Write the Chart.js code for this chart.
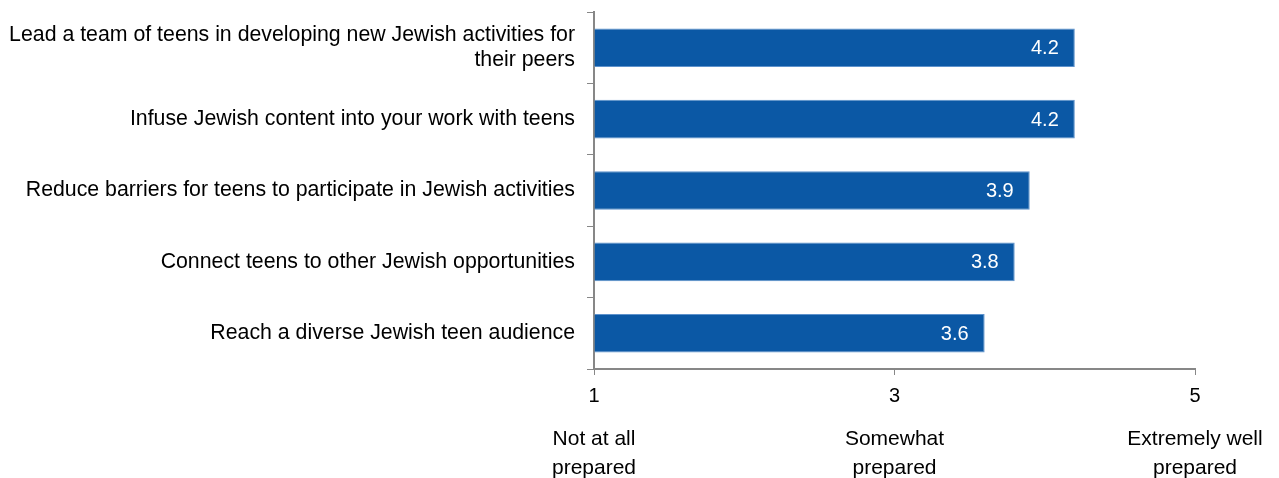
<!DOCTYPE html>
<html>
<head>
<meta charset="utf-8">
<script src="https://cdn.jsdelivr.net/npm/chart.js@4.4.1/dist/chart.umd.min.js"></script>
<style>
html,body{margin:0;padding:0;background:#fff;}
#wrap{width:1279px;height:478px;position:relative;}
</style>
</head>
<body>
<div id="wrap"><canvas id="c"></canvas></div>
<script>
const categories = [
  ["Lead a team of teens in developing new Jewish activities for", "their peers"],
  "Infuse Jewish content into your work with teens",
  "Reduce barriers for teens to participate in Jewish activities",
  "Connect teens to other Jewish opportunities",
  "Reach a diverse Jewish teen audience"
];
const values = [4.2, 4.2, 3.9, 3.8, 3.6];
const xTicks = [1, 3, 5];
const scaleLabels = [["Not at all", "prepared"], ["Somewhat", "prepared"], ["Extremely well", "prepared"]];

const FONT = "'Liberation Sans', Arial, sans-serif";
const AXIS = '#878787';
const LEFT_PAD = 4;

const barLabels = {
  id: 'barLabels',
  afterDatasetsDraw(chart) {
    const ctx = chart.ctx;
    const meta = chart.getDatasetMeta(0);
    ctx.save();
    ctx.font = '20px ' + FONT;
    ctx.fillStyle = '#ffffff';
    ctx.textAlign = 'right';
    ctx.textBaseline = 'middle';
    meta.data.forEach((bar, i) => {
      ctx.fillText(values[i].toFixed(1), bar.x - 16, bar.y + 1);
    });
    ctx.restore();
  }
};

new Chart(document.getElementById('c'), {
  type: 'bar',
  data: {
    labels: categories,
    datasets: [{
      data: values,
      backgroundColor: '#0B58A5',
      borderColor: '#5E92CC',
      borderWidth: 1,
      barPercentage: 0.54,
      categoryPercentage: 1.0,
      base: 1
    }]
  },
  options: {
    indexAxis: 'y',
    responsive: true,
    maintainAspectRatio: false,
    animation: false,
    layout: { padding: { top: 12, right: 84, bottom: 0, left: LEFT_PAD } },
    plugins: { legend: { display: false }, tooltip: { enabled: false } },
    scales: {
      x: {
        type: 'linear',
        position: 'bottom',
        min: 1, max: 5,
        afterBuildTicks(scale) { scale.ticks = xTicks.map(v => ({ value: v })); },
        afterFit(scale) { scale.height = 38; scale.paddingLeft = 0; scale.paddingRight = 0; },
        grid: { drawOnChartArea: false, drawTicks: true, tickLength: 6, color: AXIS },
        border: { color: AXIS, width: 2 },
        ticks: { color: '#000', font: { family: FONT, size: 20 }, padding: 9, maxRotation: 0 }
      },
      x2: {
        type: 'linear',
        position: 'bottom',
        min: 1, max: 5,
        afterBuildTicks(scale) { scale.ticks = xTicks.map(v => ({ value: v })); },
        afterFit(scale) { scale.height = 71; scale.paddingLeft = 0; scale.paddingRight = 0; },
        grid: { display: false, drawTicks: false },
        border: { display: false },
        ticks: {
          color: '#000',
          font: { family: FONT, size: 21, lineHeight: 1.38 },
          padding: 18,
          maxRotation: 0,
          autoSkip: false,
          callback: (v) => scaleLabels[xTicks.indexOf(v)]
        }
      },
      y: {
        afterFit(scale) { scale.width = 594 - LEFT_PAD; scale.paddingTop = 0; scale.paddingBottom = 0; },
        grid: { drawOnChartArea: false, offset: true, tickLength: 7, color: AXIS },
        border: { color: AXIS, width: 2 },
        ticks: { color: '#000', font: { family: FONT, size: 21.3, lineHeight: 1.2 }, padding: 12 }
      }
    }
  },
  plugins: [barLabels]
});
</script>
</body>
</html>
